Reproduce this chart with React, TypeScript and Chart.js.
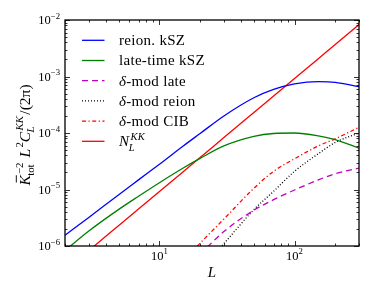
import React, { useEffect, useRef } from 'react';
import { Chart, registerables } from 'chart.js';

Chart.register(...registerables);

// ---- data ----
const ells = [2, 3, 5, 7, 10, 15, 20, 30, 50, 70, 100, 150, 200, 300];
const reionKSZ = [1.55e-6, 3.2e-6, 8.1e-6, 1.48e-5, 2.8e-5, 5.9e-5, 9.8e-5, 2.0e-4, 4.2e-4, 5.9e-4, 7.4e-4, 8.1e-4, 7.9e-4, 6.6e-4];
const lateKSZ = [8.3e-7, 1.84e-6, 4.45e-6, 7.6e-6, 1.32e-5, 2.4e-5, 3.55e-5, 5.9e-5, 8.7e-5, 9.8e-5, 1.0e-4, 8.9e-5, 7.6e-5, 5.4e-5];
const deltaLate = [null, null, null, null, null, null, 7.2e-7, 1.8e-6, 4.3e-6, 6.6e-6, 9.8e-6, 1.48e-5, 1.9e-5, 2.4e-5];
const deltaReion = [null, null, null, null, null, null, 3.7e-7, 1.1e-6, 4.4e-6, 9.3e-6, 2.1e-5, 4.3e-5, 6.8e-5, 1.0e-4];
const deltaCIB = [null, null, null, null, null, 5.4e-7, 1.12e-6, 3.0e-6, 1.05e-5, 2.1e-5, 3.5e-5, 5.9e-5, 7.9e-5, 1.26e-4];
const noiseKK = [3.67e-7, 8.3e-7, 2.3e-6, 4.5e-6, 9.2e-6, 2.07e-5, 3.67e-5, 8.3e-5, 2.3e-4, 4.5e-4, 9.2e-4, 2.07e-3, 3.67e-3, 8.3e-3];

const seriesLabels = ['reion. kSZ', 'late-time kSZ', 'δ-mod late', 'δ-mod reion', 'δ-mod CIB', 'N_L^KK'];
const seriesValues = [reionKSZ, lateKSZ, deltaLate, deltaReion, deltaCIB, noiseKK];
const seriesColors = ['#0000ff', '#008000', '#bf00bf', '#000000', '#ff0000', '#ff0000'];
const seriesDashes: number[][] = [[], [], [6, 4], [1, 2], [4, 2.5, 1.2, 2.5], []];

const xRange = [2, 300];
const yRange = [1e-6, 1e-2];
const xTickExponents = [1, 2];
const yTickExponents = [-6, -5, -4, -3, -2];
const xTitle = 'L';

// ---- tiny math-text renderer ----
type Atom = { t: string; i?: boolean; sup?: string; supI?: boolean; sub?: string; subI?: boolean; bar?: boolean; gap?: number };
const FAMILY = "'Liberation Serif', 'DejaVu Serif', serif";
const fnt = (size: number, italic?: boolean) => `${italic ? 'italic ' : ''}${size}px ${FAMILY}`;

function measureAtoms(ctx: CanvasRenderingContext2D, atoms: Atom[], size: number) {
  let w = 0;
  const s = size * 0.7;
  for (const a of atoms) {
    ctx.font = fnt(size, a.i);
    w += ctx.measureText(a.t).width;
    let sw = 0;
    if (a.sup) { ctx.font = fnt(s, a.supI); sw = Math.max(sw, ctx.measureText(a.sup).width + (a.i ? size * 0.08 : 0)); }
    if (a.sub) { ctx.font = fnt(s, a.subI); sw = Math.max(sw, ctx.measureText(a.sub).width); }
    w += sw + (a.gap || 0);
  }
  return w;
}

function drawAtoms(ctx: CanvasRenderingContext2D, atoms: Atom[], x: number, y: number, size: number) {
  const s = size * 0.7;
  ctx.textAlign = 'left';
  ctx.textBaseline = 'alphabetic';
  for (const a of atoms) {
    ctx.font = fnt(size, a.i);
    const bw = ctx.measureText(a.t).width;
    ctx.fillText(a.t, x, y);
    if (a.bar) {
      ctx.save();
      ctx.lineWidth = Math.max(0.8, size * 0.06);
      ctx.strokeStyle = ctx.fillStyle as string;
      ctx.beginPath();
      ctx.moveTo(x + bw * 0.3, y - size * 0.86);
      ctx.lineTo(x + bw * 1.0, y - size * 0.86);
      ctx.stroke();
      ctx.restore();
    }
    x += bw;
    let sw = 0;
    if (a.sup) {
      ctx.font = fnt(s, a.supI);
      const off = a.i ? size * 0.08 : 0;
      ctx.fillText(a.sup, x + off, y - size * 0.42);
      sw = Math.max(sw, ctx.measureText(a.sup).width + off);
    }
    if (a.sub) {
      ctx.font = fnt(s, a.subI);
      ctx.fillText(a.sub, x - (a.i ? size * 0.04 : 0), y + size * (a.sup ? 0.3 : 0.2));
      sw = Math.max(sw, ctx.measureText(a.sub).width);
    }
    x += sw + (a.gap || 0);
  }
}

function labelAtoms(label: string): Atom[] {
  if (label.startsWith('δ')) return [{ t: 'δ', i: true }, { t: label.slice(1) }];
  const m = label.match(/^([A-Za-z])_([A-Za-z0-9]+)\^([A-Za-z0-9]+)$/);
  if (m) return [{ t: m[1], i: true, sub: m[2], subI: true, sup: m[3], supI: true }];
  return [{ t: label }];
}

const yTitleAtoms: Atom[] = [
  { t: 'K', i: true, bar: true, sup: '−2', sub: 'tot', gap: 5 },
  { t: 'L', i: true, sup: '2' },
  { t: 'C', i: true, sup: 'KK', supI: true, sub: 'L', subI: true, gap: 1.5 },
  { t: '/(2π)' },
];

const sup = (n: number) => String(n).replace('-', '−');

const decorPlugin = {
  id: 'decor',
  afterDraw(chart: any) {
    const ctx: CanvasRenderingContext2D = chart.ctx;
    const { left, right, top, bottom } = chart.chartArea;
    const xs = chart.scales.x;
    const ys = chart.scales.y;
    ctx.save();
    ctx.fillStyle = '#000';
    ctx.strokeStyle = '#000';

    // inward ticks on all four sides
    ctx.lineWidth = 0.8;
    const drawX = (v: number, len: number) => {
      const px = Math.round(xs.getPixelForValue(v)) + 0.5;
      ctx.beginPath();
      ctx.moveTo(px, bottom); ctx.lineTo(px, bottom - len);
      ctx.moveTo(px, top); ctx.lineTo(px, top + len);
      ctx.stroke();
    };
    const drawY = (v: number, len: number) => {
      const py = Math.round(ys.getPixelForValue(v)) + 0.5;
      ctx.beginPath();
      ctx.moveTo(left, py); ctx.lineTo(left + len, py);
      ctx.moveTo(right, py); ctx.lineTo(right - len, py);
      ctx.stroke();
    };
    for (let d = Math.floor(Math.log10(xRange[0])); d <= Math.ceil(Math.log10(xRange[1])); d++) {
      for (let k = 1; k <= 9; k++) {
        const v = k * Math.pow(10, d);
        if (v < xRange[0] || v > xRange[1]) continue;
        drawX(v, k === 1 ? 5 : 2.5);
      }
    }
    for (let d = Math.round(Math.log10(yRange[0])); d <= Math.round(Math.log10(yRange[1])); d++) {
      for (let k = 1; k <= 9; k++) {
        const v = k * Math.pow(10, d);
        if (v < yRange[0] * 0.999 || v > yRange[1] * 1.001) continue;
        drawY(v, k === 1 ? 5 : 2.5);
      }
    }

    // frame
    ctx.lineWidth = 1.3;
    ctx.strokeRect(left, top, right - left, bottom - top);

    // tick labels
    const tsz = 12.5;
    for (const e of yTickExponents) {
      const atoms: Atom[] = [{ t: '10', sup: sup(e) }];
      const w = measureAtoms(ctx, atoms, tsz);
      const py = ys.getPixelForValue(Math.pow(10, e));
      drawAtoms(ctx, atoms, left - 5 - w, py + tsz * 0.33, tsz);
    }
    for (const e of xTickExponents) {
      const atoms: Atom[] = [{ t: '10', sup: sup(e) }];
      const w = measureAtoms(ctx, atoms, tsz);
      const px = xs.getPixelForValue(Math.pow(10, e));
      drawAtoms(ctx, atoms, px - w / 2, bottom + 13.5, tsz);
    }

    // x title
    {
      const atoms: Atom[] = [{ t: xTitle, i: true }];
      const w = measureAtoms(ctx, atoms, 15);
      drawAtoms(ctx, atoms, (left + right) / 2 - w / 2, bottom + 30.5, 15);
    }
    // y title
    {
      const size = 15.5;
      const w = measureAtoms(ctx, yTitleAtoms, size);
      ctx.save();
      ctx.translate(25, (top + bottom) / 2 + 2);
      ctx.rotate(-Math.PI / 2);
      drawAtoms(ctx, yTitleAtoms, -w / 2, size * 0.3, size);
      ctx.restore();
    }

    // legend
    const lsz = 15;
    chart.data.datasets.forEach((ds: any, i: number) => {
      const cy = top + 20.3 + i * 20.2;
      ctx.save();
      ctx.strokeStyle = ds.borderColor;
      ctx.lineWidth = ds.borderWidth;
      ctx.setLineDash(ds.borderDash || []);
      ctx.beginPath();
      ctx.moveTo(left + 17, cy);
      ctx.lineTo(left + 39.5, cy);
      ctx.stroke();
      ctx.restore();
      ctx.fillStyle = '#000';
      (ctx as any).letterSpacing = '0.3px';
      drawAtoms(ctx, labelAtoms(ds.label), left + 54, cy + lsz * 0.33, lsz);
      (ctx as any).letterSpacing = '0px';
    });

    ctx.restore();
  },
};

export default function App() {
  const ref = useRef<HTMLCanvasElement>(null);
  useEffect(() => {
    document.body.style.margin = '0';
    const canvas = ref.current!;
    const chart = new Chart(canvas, {
      type: 'line',
      data: {
        datasets: seriesLabels.map((label, s) => ({
          label,
          data: ells.map((x, i) => ({ x, y: seriesValues[s][i] })),
          borderColor: seriesColors[s],
          backgroundColor: seriesColors[s],
          borderDash: seriesDashes[s],
          borderWidth: 1.3,
          pointRadius: 0,
          fill: false,
          cubicInterpolationMode: 'monotone' as const,
          spanGaps: false,
        })),
      },
      options: {
        animation: false,
        responsive: false,
        devicePixelRatio: 1,
        layout: { padding: { left: 65, right: 23, top: 20, bottom: 41 } },
        scales: {
          x: { type: 'logarithmic', min: xRange[0], max: xRange[1], display: false },
          y: { type: 'logarithmic', min: yRange[0], max: yRange[1], display: false },
        },
        plugins: { legend: { display: false }, tooltip: { enabled: false } },
      },
      plugins: [decorPlugin],
    } as any);
    return () => chart.destroy();
  }, []);
  return (
    <div style={{ position: 'fixed', left: 0, top: 0, width: 382, height: 287, background: '#fff' }}>
      <canvas ref={ref} width={382} height={287} style={{ width: 382, height: 287 }} />
    </div>
  );
}
